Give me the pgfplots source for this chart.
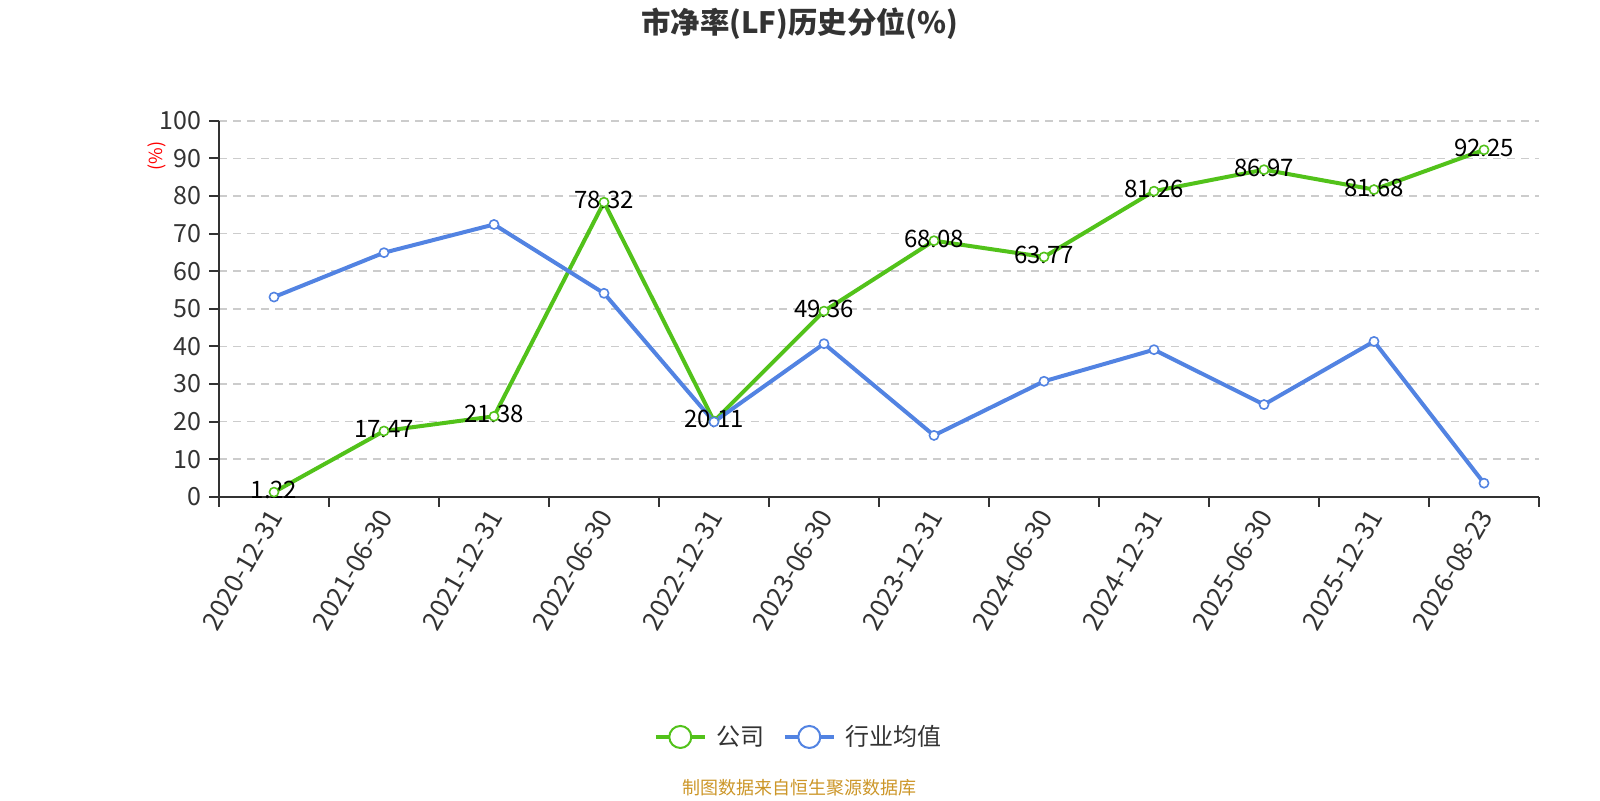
\documentclass[border=0pt]{standalone}
\usepackage{pgfplots}
\pgfplotsset{compat=1.18}
\usepackage{pgfplotstable}
\usepackage{fontspec}
\setmainfont{Noto Sans CJK SC}
\definecolor{cgreen}{RGB}{82,194,26}
\definecolor{cblue}{RGB}{82,131,226}
\definecolor{cgrid}{RGB}{204,204,204}
\definecolor{caxis}{RGB}{51,51,51}
\definecolor{cfoot}{RGB}{204,150,40}

\pgfplotstableread{
x y lab
0 1.22 1.22
1 17.47 17.47
2 21.38 21.38
3 78.32 78.32
4 20.11 20.11
5 49.36 49.36
6 68.08 68.08
7 63.77 63.77
8 81.26 81.26
9 86.97 86.97
10 81.68 81.68
11 92.25 92.25
}\company

\pgfplotstableread{
x y
0 53.1
1 64.9
2 72.4
3 54.1
4 19.9
5 40.7
6 16.3
7 30.7
8 39.1
9 24.5
10 41.3
11 3.6
}\industry

\begin{document}
\begin{tikzpicture}
\useasboundingbox (0,0) rectangle (800pt,400pt);
\begin{axis}[
  at={(109.5pt,151.65pt)}, anchor=south west,
  scale only axis, width=660pt, height=188pt,
  xmin=-0.5, xmax=11.5, ymin=0, ymax=100,
  axis x line*=bottom, axis y line*=left,
  axis line style={caxis, line width=1pt},
  xtick={-0.5,0.5,...,11.5},
  x tick label as interval,
  xticklabels={2020-12-31,2021-06-30,2021-12-31,2022-06-30,2022-12-31,2023-06-30,2023-12-31,2024-06-30,2024-12-31,2025-06-30,2025-12-31,2026-08-23},
  ytick={0,10,...,100},
  tick align=outside,
  major tick length=5pt,
  tick style={caxis, line width=1pt},
  ymajorgrids,
  major grid style={cgrid, dash pattern=on 4pt off 3pt, line width=0.8pt},
  /pgf/number format/assume math mode=true,
  ticklabel style={text=caxis},
  yticklabel style={font=\fontsize{12.5}{14}\selectfont, inner sep=0pt, xshift=-3.5pt},
  xticklabel style={font=\fontsize{13}{15}\selectfont, rotate=60, anchor=east, inner sep=0pt, yshift=-2.1pt, xshift=-1.7pt},
  ylabel={(\%)},
  ylabel style={at={(-0.0472,0.906)}, anchor=center, font=\fontsize{9}{10}\selectfont, text=red},
  title={市净率(LF)历史分位(\%)},
  title style={at={(0.44,1.226)}, anchor=center, font=\fontsize{14.7}{16}\selectfont\bfseries, text=caxis},
  legend columns=2,
  legend style={at={(0.44,-0.639)}, anchor=center, draw=none, fill=none,
    font=\fontsize{12}{14}\selectfont, text=caxis,
    /tikz/every odd column/.append style={column sep=3pt},
    /tikz/every even column/.append style={column sep=7pt}},
  legend image code/.code={
    \draw[#1] (0pt,0pt) -- (24.5pt,0pt);
    \draw[#1, line width=1pt, fill=white] (12.25pt,0pt) circle (5.5pt);
  },
  clip=false,
]
\addplot[forget plot, mark=none, draw=none, nodes near coords, point meta=explicit symbolic,
  every node near coord/.append style={font=\fontsize{12}{14}\selectfont, text=black, anchor=center, inner sep=0pt, yshift=1pt}]
  table[x=x, y=y, meta=lab]{\company};
\addplot[cgreen, line width=2pt, line join=round, mark=*, mark size=2.3pt,
  mark options={fill=white, line width=0.8pt, solid}]
  table[x=x, y=y]{\company};
\addlegendentry{公司}
\addplot[cblue, line width=2pt, line join=round, mark=*, mark size=2.3pt,
  mark options={fill=white, line width=0.8pt, solid}]
  table[x=x, y=y]{\industry};
\addlegendentry{行业均值}
\node[font=\fontsize{9}{11}\selectfont, text=cfoot] at (rel axis cs:0.44,-0.775) {制图数据来自恒生聚源数据库};
\end{axis}
\end{tikzpicture}
\end{document}
